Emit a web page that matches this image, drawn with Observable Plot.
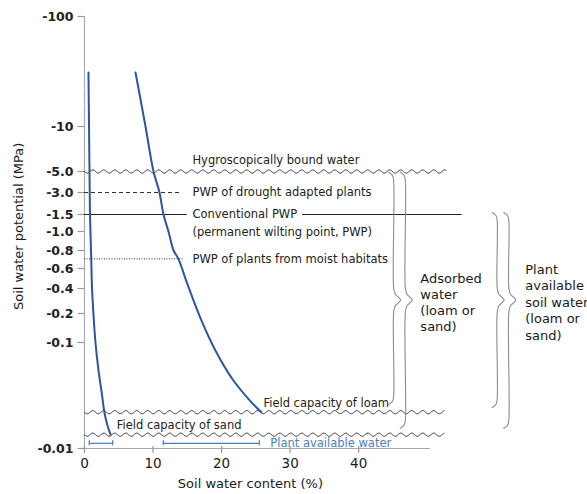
<!DOCTYPE html>
<html><head><meta charset="utf-8">
<script src="https://cdn.jsdelivr.net/npm/d3@7"></script>
<script src="https://cdn.jsdelivr.net/npm/@observablehq/plot@0.6"></script>
<style>
html,body{margin:0;padding:0;background:#fff;}
#chart{width:587px;height:494px;}
</style></head><body><div id="chart"></div>
<script>
// ---------- data ----------
const potentialTicks = [-100, -10, -5, -3, -1.5, -1, -0.8, -0.6, -0.4, -0.2, -0.1, -0.01];
const potentialTickLabels = ["-100","-10","-5.0","-3.0","-1.5","-1.0","-0.8","-0.6","-0.4","-0.2","-0.1","-0.01"];
const contentTicks = [0, 10, 20, 30, 40];

// retention curves: soil water content (%) vs. soil water potential (MPa)
const sandContent   = [0.58, 0.66, 0.73, 0.8, 0.95, 1.1, 1.3, 1.6, 2.05, 2.5, 2.9, 3.35, 3.8];
const sandPotential = [-31, -10, -5, -1.5, -0.8, -0.4, -0.2, -0.1, -0.054, -0.034, -0.022, -0.0165, -0.0135];
const loamContent   = [7.44, 8.9, 10.07, 10.94, 11.52, 12.25, 13.0, 13.7, 15.0, 16.9, 19.1, 21.7, 24.2, 25.8];
const loamPotential = [-31, -10, -5, -3, -1.5, -1.0, -0.8, -0.7, -0.44, -0.18, -0.084, -0.044, -0.028, -0.022];

// reference levels (MPa)
const hygroscopic = -5;
const pwpDrought = -3;
const pwpConventional = -1.5;
const pwpMoist = -0.7;
const fcLoam = -0.022;
const fcSand = -0.0135;
const pawLevel = -0.0112;

// plant available water intervals (sand, loam), % water content
const pawStart = [0.7, 11.5];
const pawEnd   = [4.1, 25.5];

// braces: x (content units), top, bottom (MPa)
const braceX      = [45.1, 46.8, 60.2, 61.9];
const braceTop    = [-4.9, -4.9, -1.6, -1.6];
const braceBottom = [-0.026, -0.0155, -0.0244, -0.0155];
const braceMid = -0.29;

// ---------- scales ----------
const xDomain = [0, 55];
const xRangePx = [84, 461];
const yRangePx = [16, 126, 171, 192, 214, 231, 250, 268, 288, 313, 342, 448];
const xS = d3.scaleLinear().domain(xDomain).range(xRangePx);
const yS = d3.scaleLog().domain(potentialTicks).range(yRangePx);
const yOff = (v, d) => yS.invert(yS(v) + d);
const xOff = (v, d) => xS.invert(xS(v) + d);

const sand = sandContent.map((c, i) => ({c, p: sandPotential[i]}));
const loam = loamContent.map((c, i) => ({c, p: loamPotential[i]}));

function wave(level, x0, x1, id) {
  const p0 = xS(x0), p1 = xS(x1), pts = [];
  for (let p = p0; p <= p1; p += 0.5)
    pts.push({x: xS.invert(p), y: yOff(level, 1.6 * Math.sin(2 * Math.PI * (p - p0) / 11)), id});
  return pts;
}
const waves = [...wave(hygroscopic, 0, 52.8, "h"), ...wave(fcLoam, 0, 52.5, "l"), ...wave(fcSand, 0, 52.5, "s")];

function brace(xv, top, bottom, mid, id) {
  const x0 = xS(xv), yt = yS(top), yb = yS(bottom), ym = yS(mid);
  const pts = [[x0 - 5, yt], [x0 - 1.2, yt + 3], [x0, yt + 8], [x0, ym - 13], [x0 + 1.5, ym - 6], [x0 + 7, ym],
               [x0 + 1.5, ym + 6], [x0, ym + 13], [x0, yb - 8], [x0 - 1.2, yb - 3], [x0 - 5, yb]];
  return pts.map(([px, py]) => ({x: xS.invert(px), y: yS.invert(py), id}));
}
const braces = braceX.flatMap((x, i) => brace(x, braceTop[i], braceBottom[i], braceMid, i));

const paw = pawStart.map((s, i) => ({s, e: pawEnd[i]}));
const pawCaps = pawStart.concat(pawEnd);
const yTicks = potentialTicks.map((v, i) => ({v, label: potentialTickLabels[i]}));

const dark = "#333";
const blue = "#2c55a3";
const lightBlue = "#4a7ec6";
const grey = "#8c8c8c";
const txt = {textAnchor: "start", fill: "#222"};

const chart = Plot.plot({
  width: 587, height: 494,
  marginLeft: 84, marginRight: 126, marginTop: 16, marginBottom: 46,
  style: {fontFamily: "'DejaVu Sans', sans-serif", fontSize: "11.5px", color: "#222", background: "#fff"},
  x: {domain: xDomain, range: xRangePx, axis: null},
  y: {type: "log", domain: potentialTicks, range: yRangePx, axis: null},
  marks: [
    // axes
    Plot.ruleX([0], {y1: -100, y2: -0.01, stroke: "#aaa", strokeWidth: 1.2}),
    Plot.ruleY([-0.01], {x1: 0, x2: 50.5, stroke: "#aaa", strokeWidth: 1.2}),
    Plot.ruleY(yTicks, {y: "v", x1: () => xOff(0, -6.5), x2: 0, stroke: "#999", strokeWidth: 1.2}),
    Plot.text(yTicks, {y: "v", text: "label", frameAnchor: "left", dx: -11, textAnchor: "end", fontSize: 12.5, fontWeight: "bold", fill: "#222"}),
    Plot.ruleX(contentTicks, {x: d => d, y1: () => yOff(-0.01, -2), y2: () => yOff(-0.01, 5), stroke: "#999", strokeWidth: 1.2}),
    Plot.text(contentTicks, {x: d => d, frameAnchor: "bottom", dy: 19, fontSize: 13.5, fill: "#1a1a1a"}),
    Plot.text(["Soil water potential (MPa)"], {frameAnchor: "left", y: -1.13, dx: -66, rotate: -90, textAnchor: "middle", fontSize: 13, fill: "#1a1a1a"}),
    Plot.text(["Soil water content (%)"], {frameAnchor: "bottom", x: 24.2, dy: 39, textAnchor: "middle", fontSize: 13, fill: "#1a1a1a"}),

    // reference lines
    Plot.line(waves, {x: "x", y: "y", z: "id", stroke: dark, strokeWidth: 1}),
    Plot.ruleY([pwpDrought], {x1: 0, x2: 13.9, stroke: dark, strokeDasharray: "4,3"}),
    Plot.ruleY([pwpConventional], {x1: 0, x2: 15.0, stroke: "#222", strokeWidth: 1.1}),
    Plot.ruleY([pwpConventional], {x1: 31.8, x2: 55.1, stroke: "#222", strokeWidth: 1.1}),
    Plot.ruleY([pwpMoist], {x1: 0, x2: 14.4, stroke: dark, strokeDasharray: "1,1.5"}),

    // level labels
    Plot.text(["Hygroscopically bound water"], {x: 15.75, y: hygroscopic, dy: -11, ...txt}),
    Plot.text(["PWP of drought adapted plants"], {x: 15.75, y: pwpDrought, ...txt}),
    Plot.text(["Conventional PWP"], {x: 15.75, y: pwpConventional, ...txt}),
    Plot.text(["(permanent wilting point, PWP)"], {x: 15.75, y: pwpConventional, dy: 18, ...txt}),
    Plot.text(["PWP of plants from moist habitats"], {x: 15.75, y: pwpMoist, ...txt}),
    Plot.text(["Field capacity of loam"], {x: 26.1, y: fcLoam, dy: -9, ...txt}),
    Plot.text(["Field capacity of sand"], {x: 4.7, y: fcSand, dy: -9, ...txt}),

    // retention curves
    Plot.line(sand, {x: "c", y: "p", stroke: blue, strokeWidth: 2, curve: "catmull-rom"}),
    Plot.line(loam, {x: "c", y: "p", stroke: blue, strokeWidth: 2, curve: "catmull-rom"}),

    // plant available water intervals
    Plot.ruleY(paw, {y: () => pawLevel, x1: "s", x2: "e", stroke: lightBlue, strokeWidth: 1.2}),
    Plot.ruleX(pawCaps, {x: d => d, y1: () => yOff(pawLevel, -2.5), y2: () => yOff(pawLevel, 2.5), stroke: lightBlue, strokeWidth: 1.2}),
    Plot.text(["Plant available water"], {x: 27.1, y: pawLevel, textAnchor: "start", fill: lightBlue}),

    // braces
    Plot.line(braces, {x: "x", y: "y", z: "id", stroke: grey, strokeWidth: 1.1, curve: "catmull-rom"}),
    Plot.text(["Adsorbed\nwater\n(loam or\nsand)"], {x: 49.0, y: -0.279, textAnchor: "start", fontSize: 13, lineHeight: 1.23, fill: "#1a1a1a"}),
    Plot.text(["Plant\navailable\nsoil water\n(loam or\nsand)"], {x: 64.3, y: -0.28, textAnchor: "start", fontSize: 13, lineHeight: 1.27, fill: "#1a1a1a"})
  ]
});
document.getElementById("chart").appendChild(chart);
</script></body></html>
